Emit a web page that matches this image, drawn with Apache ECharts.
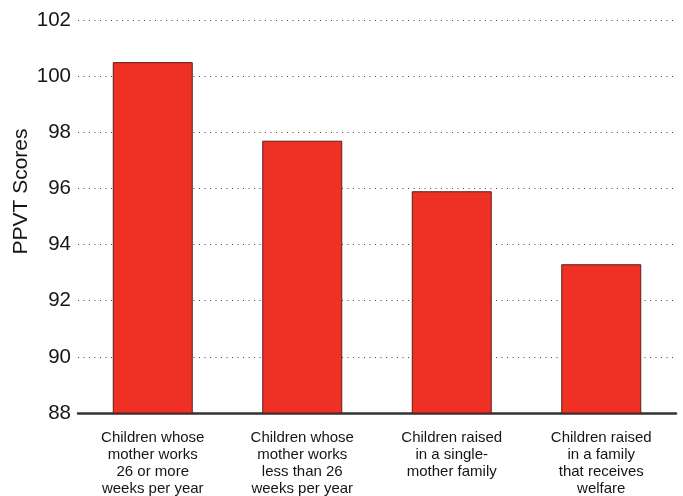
<!DOCTYPE html>
<html><head><meta charset="utf-8">
<script src="https://cdn.jsdelivr.net/npm/echarts@6/dist/echarts.min.js"></script>
<style>html,body{margin:0;padding:0;background:#fff}#c{width:683px;height:496px}</style>
</head><body><div id="c"></div>
<script>
const categories = [
  "Children whose\nmother works\n26 or more\nweeks per year",
  "Children whose\nmother works\nless than 26\nweeks per year",
  "Children raised\nin a single-\nmother family",
  "Children raised\nin a family\nthat receives\nwelfare"
];
const scores = [100.5, 97.7, 95.9, 93.3];
const yTicks = { min: 88, max: 102, interval: 2 };
const yTitle = "PPVT Scores";

const chart = echarts.init(document.getElementById('c'), null, {renderer: 'canvas'});
chart.setOption({
  animation: false,
  backgroundColor: '#fff',
  textStyle: { fontFamily: 'Liberation Sans, Arial, sans-serif' },
  grid: { left: 78, right: 7, top: 20, bottom: 83, containLabel: false, outerBoundsMode: 'none' },
  xAxis: {
    type: 'category',
    data: categories,
    axisLine: { show: true, lineStyle: { color: '#333', width: 2.5 } },
    axisTick: { show: false },
    axisLabel: {
      interval: 0, margin: 16, color: '#151515', fontSize: 15, lineHeight: 17,
      fontFamily: 'Liberation Sans, Arial, sans-serif', verticalAlign: 'top'
    },
    splitLine: { show: false }
  },
  yAxis: {
    type: 'value',
    min: yTicks.min, max: yTicks.max, interval: yTicks.interval,
    name: yTitle, nameLocation: 'middle', nameGap: 46, nameMoveOverlap: false,
    nameTextStyle: { fontSize: 21, color: '#151515', padding: [0, 0, 0, 50], fontFamily: 'Liberation Sans, Arial, sans-serif' },
    axisLine: { show: false },
    axisTick: { show: false },
    axisLabel: { fontSize: 20.5, color: '#151515', margin: 7, fontFamily: 'Liberation Sans, Arial, sans-serif' },
    splitLine: { show: true, lineStyle: { color: '#444', width: 1, type: [1, 4.5] } }
  },
  series: [{
    type: 'bar',
    data: scores,
    barWidth: 80,
    itemStyle: { color: '#EE3124', borderColor: '#5a2018', borderWidth: 1 }
  }]
});
</script></body></html>
